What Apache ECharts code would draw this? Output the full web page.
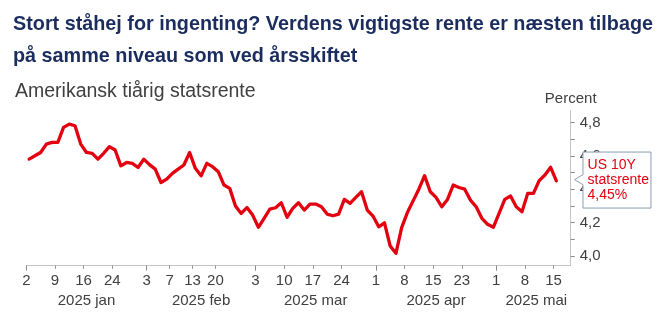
<!DOCTYPE html>
<html><head><meta charset="utf-8">
<script src="https://cdn.jsdelivr.net/npm/echarts@6/dist/echarts.min.js"></script>
<style>html,body{margin:0;padding:0;background:#fff}#c{width:663px;height:325px}</style>
</head><body><div id="c"></div>
<script>
// Trading days shown on the axis (Jan 2 – May 20, 2025)
const dates = [
 '2025-01-02','2025-01-03','2025-01-06','2025-01-07','2025-01-08','2025-01-09','2025-01-10','2025-01-13','2025-01-14','2025-01-15','2025-01-16','2025-01-17','2025-01-21','2025-01-22','2025-01-23','2025-01-24','2025-01-27','2025-01-28','2025-01-29','2025-01-30','2025-01-31',
 '2025-02-03','2025-02-04','2025-02-05','2025-02-06','2025-02-07','2025-02-10','2025-02-11','2025-02-12','2025-02-13','2025-02-14','2025-02-18','2025-02-19','2025-02-20','2025-02-21','2025-02-24','2025-02-25','2025-02-26','2025-02-27','2025-02-28',
 '2025-03-03','2025-03-04','2025-03-05','2025-03-06','2025-03-07','2025-03-10','2025-03-11','2025-03-12','2025-03-13','2025-03-14','2025-03-17','2025-03-18','2025-03-19','2025-03-20','2025-03-21','2025-03-24','2025-03-25','2025-03-26','2025-03-27','2025-03-28','2025-03-31',
 '2025-04-01','2025-04-02','2025-04-03','2025-04-04','2025-04-07','2025-04-08','2025-04-09','2025-04-10','2025-04-11','2025-04-14','2025-04-15','2025-04-16','2025-04-17','2025-04-21','2025-04-22','2025-04-23','2025-04-24','2025-04-25','2025-04-28','2025-04-29','2025-04-30',
 '2025-05-01','2025-05-02','2025-05-05','2025-05-06','2025-05-07','2025-05-08','2025-05-09','2025-05-12','2025-05-13','2025-05-14','2025-05-15','2025-05-16','2025-05-19','2025-05-20'
];
// US 10Y yield (percent), Jan 2 – May 15
const yields = [
 4.58,4.60,4.62,4.67,4.68,4.68,4.77,4.79,4.78,4.67,4.62,4.615,4.58,4.615,4.655,4.635,4.54,4.56,4.555,4.53,4.58,
 4.547,4.52,4.44,4.46,4.495,4.52,4.545,4.62,4.525,4.48,4.555,4.535,4.505,4.425,4.405,4.30,4.255,4.29,4.245,
 4.172,4.226,4.281,4.289,4.319,4.232,4.285,4.319,4.275,4.311,4.311,4.295,4.251,4.241,4.251,4.339,4.315,4.351,4.385,4.275,4.239,
 4.175,4.199,4.06,4.016,4.17,4.26,4.33,4.40,4.481,4.385,4.351,4.295,4.339,4.425,4.41,4.40,4.335,4.295,4.226,4.19,4.172,
 4.255,4.339,4.359,4.295,4.265,4.375,4.375,4.451,4.485,4.531,4.45
];
const tickDates = ['2025-01-02','2025-01-09','2025-01-16','2025-01-24','2025-02-03','2025-02-07','2025-02-13','2025-02-20','2025-03-03','2025-03-10','2025-03-17','2025-03-24','2025-04-01','2025-04-08','2025-04-15','2025-04-23','2025-05-01','2025-05-08','2025-05-15'];
const monthStarts = ['2025-01-02','2025-02-03','2025-03-03','2025-04-01','2025-05-01'];
const monthNames = ['2025 jan','2025 feb','2025 mar','2025 apr','2025 mai'];
const yTickValues = [4.0,4.1,4.2,4.3,4.4,4.5,4.6,4.7,4.8];
const yLabelValues = [4.0,4.2,4.4,4.6,4.8];
const calloutLines = ['US 10Y','statsrente','4,45%'];
const titleLines = ['Stort ståhej for ingenting? Verdens vigtigste rente er næsten tilbage', 'på samme niveau som ved årsskiftet'];
const subtitleText = 'Amerikansk tiårig statsrente';
const yName = 'Percent';

const pos = d => dates.indexOf(d);
const seriesData = yields.map((v, i) => [i + 0.5, v]);
const tickIdx = tickDates.map(pos);
const monthIdx = monthStarts.map(pos);
const monthCenters = monthIdx.map((s, k) => (s + (k + 1 < monthIdx.length ? monthIdx[k + 1] : dates.length)) / 2);

const FONT = '"Liberation Sans", Arial, sans-serif';
const TITLE_FONT = 'bold 21px "Liberation Sans", Arial, sans-serif';
// condensed look: squeeze the bold title to the reference width
const mctx = document.createElement('canvas').getContext('2d');
mctx.font = TITLE_FONT;
const titleScale = 640 / mctx.measureText(titleLines[0]).width;

const chart = echarts.init(document.getElementById('c'), null, {renderer: 'canvas'});
const option = {
  backgroundColor: '#fff',
  animation: false,
  title: [
    {text: subtitleText, left: 15, top: 82, padding: 0,
     textStyle: {fontFamily: FONT, fontWeight: 'normal', fontSize: 19.5, lineHeight: 20, color: '#404040'}}
  ],
  grid: {left: 26.3, right: 92.3, top: 110.7, bottom: 59.3},
  xAxis: [
    {type: 'value', min: 0, max: dates.length - 1, splitLine: {show: false},
     axisLine: {show: true, onZero: false, lineStyle: {color: '#c4c4c4', width: 1}},
     axisTick: {show: true, customValues: tickIdx, length: 3, lineStyle: {color: '#8c8c8c'}},
     axisLabel: {customValues: tickIdx, margin: 8, fontSize: 15, fontFamily: FONT, color: '#404040',
       formatter: v => String(parseInt(dates[Math.round(v)].slice(8), 10))}},
    {type: 'value', min: 0, max: dates.length - 1, position: 'bottom', splitLine: {show: false},
     axisLine: {show: false, onZero: false},
     axisTick: {show: true, customValues: monthIdx, length: 5, lineStyle: {color: '#8c8c8c'}},
     axisLabel: {customValues: monthCenters, margin: 28, fontSize: 15, fontFamily: FONT, color: '#404040',
       formatter: v => { const k = monthCenters.findIndex(c => Math.abs(c - v) < 1e-6); return k >= 0 ? monthNames[k] : ''; }}}
  ],
  yAxis: {
    type: 'value', position: 'right', min: 3.942, max: 4.87, splitLine: {show: false},
    name: yName, nameLocation: 'end', nameGap: 4,
    nameTextStyle: {fontSize: 15, fontFamily: FONT, color: '#404040', align: 'center'},
    axisLine: {show: true, onZero: false, lineStyle: {color: '#c4c4c4', width: 1}},
    axisTick: {show: true, customValues: yTickValues, length: 4, lineStyle: {color: '#8c8c8c'}},
    axisLabel: {customValues: yLabelValues, margin: 9, fontSize: 15, fontFamily: FONT, color: '#404040',
      formatter: v => v.toFixed(1).replace('.', ',')}
  },
  series: [{
    type: 'line', xAxisIndex: 0, yAxisIndex: 0, data: seriesData, showSymbol: false, symbol: 'none',
    lineStyle: {color: '#e3000f', width: 3.3, join: 'round', cap: 'round'}, z: 3
  }]
};
chart.setOption(option);

const last = seriesData[seriesData.length - 1];
const p = chart.convertToPixel({xAxisIndex: 0, yAxisIndex: 0}, last);
const tipX = p[0] + 18.2, tipY = p[1] - 1.2;
const L = tipX + 8.4, R = L + 68, T = tipY - 27.6, B = tipY + 28.4;
const graphics = titleLines.map((t, k) => ({
  id: 'title' + k, type: 'text', x: 13, y: 24.5 + k * 31.5, scaleX: titleScale, z: 100,
  style: {text: t, font: TITLE_FONT, fill: '#1b2d5e', verticalAlign: 'middle', align: 'left'}
}));
graphics.push(
  {id: 'calloutBox', type: 'polygon', z: 100, shape: {points: [[L, T], [R, T], [R, B], [L, B], [L, tipY + 5], [tipX, tipY], [L, tipY - 5]]},
   style: {fill: '#fff', stroke: '#8d9cb5', lineWidth: 1}},
  {id: 'calloutText', type: 'text', z: 101, x: L + 4.6, y: T + 5.8,
   style: {text: calloutLines.join('\n'), fill: '#e3000f', font: '14px ' + FONT, lineHeight: 15, verticalAlign: 'top', align: 'left'}}
);
chart.setOption({graphic: graphics});
</script></body></html>
